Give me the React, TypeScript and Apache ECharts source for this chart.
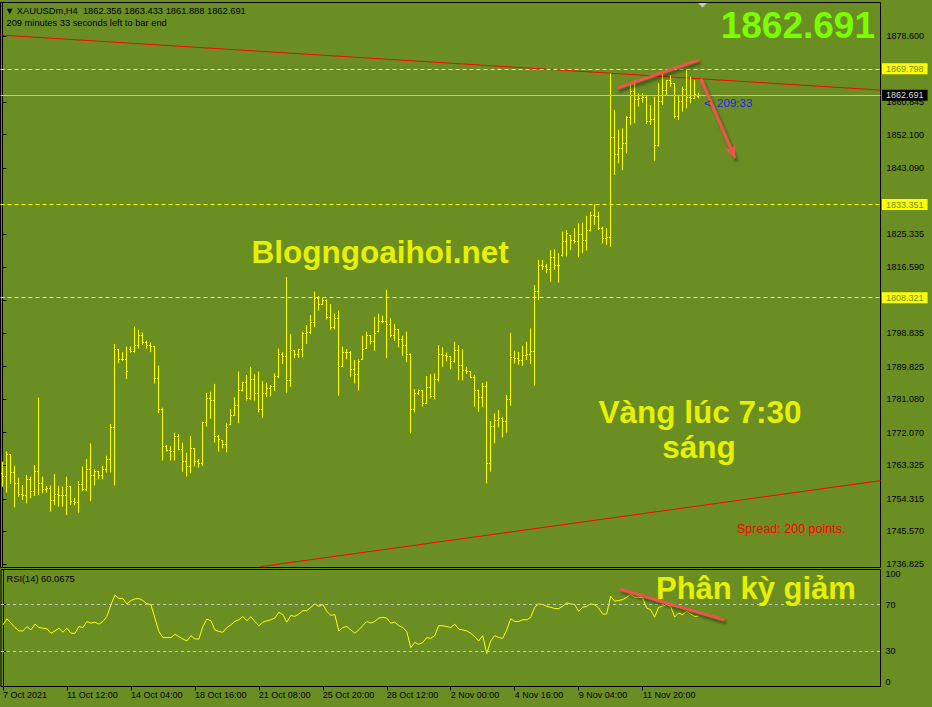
import React, { useEffect, useRef } from "react";
import * as echarts from "echarts";

// ---- time axis (one label every 16 H4 bars) ----
const timeLabels = [
  "7 Oct 2021", "11 Oct 12:00", "14 Oct 04:00", "18 Oct 16:00", "21 Oct 08:00",
  "25 Oct 20:00", "28 Oct 12:00", "2 Nov 00:00", "4 Nov 16:00", "9 Nov 04:00", "11 Nov 20:00",
];
const timeTickIdx = [0, 16, 32, 48, 64, 80, 96, 112, 128, 144, 160];

// ---- price axis tick labels ----
const priceTicks = [
  1878.6, 1860.845, 1852.1, 1843.09, 1825.335, 1816.59, 1807.58,
  1798.835, 1789.825, 1781.08, 1772.07, 1763.325, 1754.315, 1745.57, 1736.825,
];
const rsiTicks = [0, 30, 70, 100];

// ---- XAUUSDm H4 bars ----
const opens = [
  1761.0, 1760.3, 1766.1, 1761.4, 1758.5, 1755.6, 1755.1, 1759.4, 1756.3, 1761.6,
  1758.5, 1756.9, 1757.1, 1754.0, 1755.6, 1755.1, 1755.1, 1757.6, 1753.6, 1753.3,
  1758.3, 1756.7, 1762.1, 1760.7, 1761.6, 1760.7, 1762.1, 1765.0, 1773.5, 1794.5,
  1791.8, 1791.8, 1794.5, 1793.8, 1795.6, 1798.3, 1796.3, 1795.6, 1795.2, 1786.7,
  1778.4, 1768.3, 1767.4, 1767.0, 1771.0, 1767.6, 1764.3, 1763.1, 1767.9, 1764.3,
  1763.9, 1774.8, 1781.3, 1780.6, 1771.0, 1770.1, 1768.8, 1774.4, 1776.7, 1779.5,
  1783.4, 1785.5, 1781.3, 1786.4, 1782.7, 1778.4, 1782.5, 1784.0, 1784.6, 1787.1,
  1793.1, 1792.5, 1786.0, 1794.1, 1793.0, 1794.3, 1798.6, 1799.0, 1801.7, 1808.2,
  1806.6, 1807.7, 1803.1, 1800.4, 1802.8, 1789.8, 1793.6, 1793.6, 1789.1, 1787.6,
  1791.8, 1794.8, 1798.3, 1796.7, 1799.3, 1801.9, 1801.9, 1801.0, 1798.1, 1799.7,
  1797.0, 1795.6, 1793.2, 1778.2, 1782.7, 1783.4, 1780.0, 1784.3, 1781.8, 1786.4,
  1793.0, 1792.7, 1792.5, 1791.2, 1794.1, 1790.0, 1788.9, 1788.5, 1787.0, 1783.4,
  1781.6, 1784.4, 1763.7, 1773.7, 1775.3, 1775.9, 1775.0, 1780.9, 1792.3, 1792.1,
  1791.4, 1792.9, 1793.2, 1794.0, 1810.0, 1816.9, 1816.7, 1815.8, 1819.2, 1816.9,
  1819.6, 1823.4, 1825.0, 1823.8, 1823.4, 1825.2, 1823.8, 1826.3, 1830.3, 1830.1,
  1827.0, 1824.3, 1824.5, 1851.4, 1846.9, 1848.4, 1849.8, 1856.8, 1863.7, 1861.6,
  1861.9, 1862.1, 1855.6, 1856.2, 1849.1, 1861.0, 1863.9, 1866.6, 1865.9, 1856.9,
  1861.0, 1864.3, 1862.1, 1861.9, 1862.356,
];
const highs = [
  1764.3, 1767.0, 1766.1, 1763.2, 1760.0, 1758.0, 1760.7, 1760.3, 1763.4, 1781.5,
  1760.3, 1757.8, 1757.9, 1761.0, 1757.8, 1757.6, 1760.3, 1757.6, 1754.5, 1759.1,
  1763.0, 1765.0, 1769.2, 1762.2, 1761.6, 1763.2, 1765.9, 1774.4, 1795.9, 1794.5,
  1793.7, 1795.2, 1795.2, 1800.6, 1799.7, 1799.0, 1796.8, 1796.3, 1795.4, 1790.1,
  1778.8, 1768.8, 1768.5, 1772.1, 1771.7, 1769.4, 1766.7, 1771.2, 1767.9, 1765.0,
  1775.0, 1782.8, 1783.1, 1785.2, 1771.5, 1770.1, 1774.6, 1778.4, 1781.6, 1788.5,
  1785.8, 1787.6, 1789.8, 1787.8, 1788.5, 1786.0, 1785.5, 1784.9, 1788.0, 1794.7,
  1793.7, 1813.9, 1798.6, 1794.3, 1794.6, 1799.2, 1801.0, 1803.7, 1810.0, 1808.8,
  1808.2, 1807.9, 1806.6, 1804.1, 1804.9, 1795.2, 1794.5, 1794.0, 1791.6, 1791.8,
  1798.1, 1799.2, 1798.3, 1803.2, 1804.0, 1803.5, 1810.4, 1802.8, 1801.3, 1799.8,
  1798.1, 1799.2, 1793.4, 1783.8, 1783.7, 1783.4, 1787.3, 1787.8, 1788.0, 1795.6,
  1795.0, 1793.6, 1792.7, 1796.5, 1795.6, 1794.5, 1789.8, 1788.5, 1787.6, 1783.6,
  1785.5, 1785.8, 1775.2, 1777.3, 1778.2, 1776.2, 1782.2, 1798.9, 1794.1, 1793.8,
  1795.4, 1796.5, 1800.1, 1811.7, 1818.5, 1818.5, 1817.4, 1821.1, 1821.3, 1820.3,
  1826.1, 1826.5, 1825.2, 1827.0, 1828.3, 1828.5, 1830.3, 1831.4, 1833.4, 1831.4,
  1827.4, 1827.0, 1868.6, 1858.7, 1853.4, 1853.8, 1857.1, 1865.9, 1866.3, 1863.2,
  1863.2, 1862.8, 1860.1, 1862.3, 1865.9, 1868.6, 1866.8, 1868.1, 1865.9, 1862.8,
  1865.0, 1869.8, 1867.7, 1866.8, 1863.433,
];
const lows = [
  1757.6, 1756.0, 1758.3, 1752.0, 1754.9, 1754.0, 1753.1, 1754.5, 1755.1, 1755.4,
  1755.8, 1756.0, 1750.9, 1752.7, 1752.2, 1752.2, 1750.0, 1752.7, 1752.7, 1750.6,
  1756.4, 1756.4, 1753.7, 1757.9, 1759.6, 1759.6, 1761.4, 1761.4, 1757.9, 1790.7,
  1791.4, 1786.5, 1793.6, 1793.6, 1794.7, 1795.6, 1794.7, 1793.7, 1785.3, 1777.3,
  1764.6, 1767.0, 1764.6, 1764.6, 1767.4, 1761.6, 1760.3, 1761.2, 1763.0, 1762.7,
  1763.2, 1773.7, 1775.8, 1769.4, 1767.0, 1767.9, 1766.8, 1774.1, 1776.7, 1774.6,
  1783.1, 1780.7, 1780.9, 1780.7, 1777.5, 1776.1, 1781.6, 1781.8, 1783.3, 1786.7,
  1790.5, 1782.8, 1784.4, 1792.1, 1792.2, 1792.3, 1795.9, 1798.6, 1800.4, 1804.9,
  1806.4, 1802.5, 1799.7, 1799.8, 1782.0, 1789.8, 1791.8, 1787.1, 1785.3, 1783.4,
  1791.6, 1794.6, 1795.8, 1794.1, 1799.0, 1801.5, 1792.1, 1797.7, 1796.7, 1795.0,
  1792.7, 1791.0, 1771.9, 1777.5, 1782.2, 1779.1, 1779.8, 1781.3, 1781.0, 1785.8,
  1789.8, 1791.2, 1789.1, 1790.9, 1786.2, 1786.1, 1787.8, 1786.7, 1779.1, 1777.7,
  1778.9, 1758.5, 1761.6, 1769.2, 1773.5, 1770.8, 1772.1, 1779.3, 1790.7, 1790.3,
  1790.0, 1791.6, 1790.5, 1784.7, 1807.7, 1815.8, 1814.9, 1812.6, 1815.8, 1812.4,
  1819.4, 1819.4, 1821.1, 1822.9, 1819.2, 1820.3, 1821.0, 1826.1, 1827.9, 1826.5,
  1822.9, 1822.5, 1822.0, 1841.3, 1844.4, 1842.6, 1847.1, 1854.7, 1855.2, 1859.6,
  1860.7, 1855.0, 1854.7, 1845.1, 1848.9, 1860.1, 1862.8, 1865.0, 1856.5, 1856.1,
  1858.3, 1859.2, 1860.5, 1861.9, 1861.888,
];
const closes = [
  1760.3, 1766.1, 1761.4, 1758.5, 1755.6, 1755.1, 1759.4, 1756.3, 1761.6, 1758.5,
  1756.9, 1757.1, 1754.0, 1755.6, 1755.1, 1755.1, 1757.6, 1753.6, 1753.3, 1758.3,
  1756.7, 1762.1, 1760.7, 1761.6, 1760.7, 1762.1, 1765.0, 1773.5, 1794.5, 1791.8,
  1791.8, 1788.5, 1793.8, 1795.6, 1798.3, 1796.3, 1795.6, 1795.2, 1786.7, 1778.4,
  1768.3, 1767.4, 1767.0, 1771.0, 1767.6, 1764.3, 1763.1, 1767.9, 1764.3, 1763.9,
  1774.8, 1781.3, 1780.6, 1771.0, 1770.3, 1768.8, 1773.5, 1776.7, 1779.5, 1783.4,
  1785.5, 1781.3, 1786.4, 1782.7, 1778.4, 1782.5, 1784.0, 1784.6, 1787.1, 1793.1,
  1792.5, 1786.0, 1794.1, 1793.0, 1794.3, 1798.6, 1799.0, 1801.7, 1808.2, 1806.6,
  1807.7, 1803.1, 1800.4, 1802.8, 1789.8, 1793.6, 1793.6, 1789.1, 1787.6, 1791.2,
  1794.5, 1798.3, 1796.7, 1798.8, 1801.9, 1801.9, 1801.0, 1798.1, 1799.7, 1797.0,
  1795.6, 1793.2, 1778.2, 1782.7, 1783.4, 1780.0, 1784.3, 1781.8, 1786.4, 1793.0,
  1792.7, 1792.5, 1791.2, 1794.1, 1790.0, 1788.9, 1788.5, 1787.0, 1783.4, 1781.6,
  1784.4, 1763.7, 1773.7, 1775.3, 1775.9, 1775.0, 1780.9, 1792.3, 1792.1, 1791.4,
  1792.9, 1793.2, 1794.0, 1810.0, 1816.9, 1816.7, 1815.8, 1819.2, 1816.9, 1816.9,
  1823.4, 1825.6, 1823.8, 1823.4, 1825.2, 1823.8, 1826.3, 1830.3, 1830.1, 1827.0,
  1824.3, 1824.5, 1851.4, 1846.9, 1848.4, 1849.8, 1856.8, 1863.7, 1861.6, 1861.9,
  1862.1, 1855.6, 1856.2, 1849.1, 1861.0, 1863.9, 1866.6, 1865.9, 1856.9, 1861.0,
  1864.3, 1862.1, 1861.9, 1862.8, 1862.691,
];

// ---- RSI(14) ----
const rsiValues = [
  52.7, 57.9, 54.2, 50.4, 47.5, 47.5, 51.3, 48.4, 53.3, 50.4,
  49.8, 49.3, 45.5, 47.5, 49.8, 46.4, 49.8, 45.5, 45.5, 51.3,
  50.4, 55.6, 54.2, 55.0, 53.3, 55.6, 59.9, 70.0, 78.1, 75.2,
  75.2, 70.6, 73.5, 74.9, 75.2, 73.5, 70.6, 70.0, 58.5, 47.0,
  41.8, 41.8, 41.8, 44.7, 42.6, 40.6, 38.9, 43.5, 40.6, 40.6,
  51.3, 57.6, 56.2, 48.4, 47.0, 46.4, 50.4, 52.7, 55.6, 57.0,
  59.9, 56.2, 59.6, 55.6, 51.9, 55.0, 56.2, 57.0, 58.5, 63.4,
  61.4, 55.0, 60.8, 59.9, 61.9, 64.8, 64.8, 67.7, 70.6, 68.6,
  70.0, 64.2, 60.8, 61.4, 47.5, 50.4, 51.3, 48.4, 45.5, 48.4,
  52.1, 55.6, 54.2, 55.6, 58.5, 59.1, 58.5, 54.2, 55.0, 52.1,
  50.4, 47.0, 33.1, 37.7, 36.0, 37.7, 41.8, 41.2, 43.5, 52.1,
  51.9, 51.3, 50.4, 53.3, 49.0, 48.4, 47.5, 45.5, 42.6, 38.9,
  43.5, 28.2, 38.9, 43.5, 41.8, 41.2, 48.4, 57.9, 55.6, 55.6,
  57.0, 57.0, 59.1, 67.7, 70.6, 70.0, 68.6, 67.7, 66.6, 66.6,
  68.6, 71.4, 70.6, 70.0, 64.2, 67.7, 68.6, 70.6, 70.0, 67.1,
  61.9, 61.9, 77.2, 72.9, 73.5, 74.3, 76.3, 78.7, 76.3, 76.3,
  75.8, 67.1, 65.7, 59.3, 67.7, 68.6, 70.0, 68.6, 59.3, 62.8,
  61.4, 64.2, 61.9, 59.9, 60.0675,
];
const rsiLevels = [70, 30];

// ---- horizontal price levels and current bid ----
const levelLines = [1869.798, 1833.351, 1808.321];
const bidPrice = 1862.691;

// ---- drawn objects, as [bar index, price] (or [bar index, RSI]) ----
const trendUpper = [[-0.5, 1878.85], [219.5, 1864.08]];
const trendLower = [[64.5, 1736.1], [219.5, 1759.2]];
const annotTop = [[153.6, 1864.6], [174.1, 1872.2]];
const annotArrow = [[174.6, 1867.1], [183.1, 1845.8]];
const rsiDivergence = [[154.1, 83.4], [180.4, 56.9]];

const FONT = '"Liberation Sans", Arial, sans-serif';
const BG = "#6b8e23";
const CORAL = "#f0524c";

export default function App() {
  const ref = useRef<HTMLDivElement>(null);

  useEffect(() => {
    const chart = echarts.init(ref.current as HTMLDivElement, null, { renderer: "svg" });
    const ohlc = closes.map((c, i) => [i, opens[i], highs[i], lows[i], c]);
    const rsi = rsiValues.map((v, i) => [i, v]);

    const coralStyle = {
      color: CORAL,
      width: 3,
      type: "solid",
      shadowColor: "rgba(0,0,0,0.45)",
      shadowBlur: 3,
      shadowOffsetX: 2,
      shadowOffsetY: 3,
    };

    const tagLabel = (bg: string, fg: string, v: number) => ({
      show: true,
      position: "end",
      distance: 1.5,
      formatter: () => v.toFixed(3),
      backgroundColor: bg,
      color: fg,
      padding: [1, 4, 1, 4],
      fontSize: 9,
      fontFamily: FONT,
    });

    const option: any = {
      animation: false,
      backgroundColor: BG,
      textStyle: { fontFamily: FONT },
      grid: [
        { left: 0.5, top: 2.5, width: 880, height: 565, show: true, borderColor: "#000", borderWidth: 1 },
        { left: 0.5, top: 569.5, width: 880, height: 117, show: true, borderColor: "#000", borderWidth: 1 },
      ],
      xAxis: [
        { type: "value", gridIndex: 0, min: -0.5, max: 219.5, show: false },
        {
          type: "value",
          gridIndex: 1,
          min: -0.5,
          max: 219.5,
          position: "bottom",
          axisLine: { show: true, lineStyle: { color: "#000", width: 1 } },
          splitLine: { show: false },
          axisTick: { show: true, length: 4, customValues: timeTickIdx, lineStyle: { color: "#000" } },
          axisLabel: {
            customValues: timeTickIdx,
            formatter: (v: number) => timeLabels[Math.round(v / 16)] ?? "",
            align: "left",
            margin: 4,
            fontSize: 9,
            color: "#000",
            fontFamily: FONT,
          },
        },
      ],
      yAxis: [
        {
          type: "value",
          gridIndex: 0,
          position: "right",
          min: 1735.88,
          max: 1887.6,
          axisLine: { show: true, lineStyle: { color: "#000" } },
          splitLine: { show: false },
          axisTick: { show: true, length: 4, customValues: priceTicks, lineStyle: { color: "#000" } },
          axisLabel: {
            customValues: priceTicks,
            formatter: (v: number) => v.toFixed(3),
            margin: 6,
            fontSize: 9,
            color: "#000",
            fontFamily: FONT,
          },
        },
        {
          type: "value",
          gridIndex: 1,
          position: "right",
          min: 0,
          max: 100,
          axisLine: { show: true, lineStyle: { color: "#000" } },
          splitLine: { show: false },
          axisTick: { show: true, length: 3, customValues: rsiLevels, lineStyle: { color: "#000" } },
          axisLabel: {
            customValues: rsiTicks,
            formatter: (v: number) => String(v),
            margin: 5,
            fontSize: 9,
            color: "#000",
            fontFamily: FONT,
            verticalAlignMaxLabel: "top",
            verticalAlignMinLabel: "bottom",
          },
        },
      ],
      series: [
        {
          name: "trendUpper",
          type: "line",
          xAxisIndex: 0,
          yAxisIndex: 0,
          data: trendUpper,
          symbol: "none",
          silent: true,
          z: 1,
          lineStyle: { color: "#ff0000", width: 1 },
          markLine: {
            silent: true,
            symbol: ["none", "none"],
            data: [
              ...levelLines.map((v) => ({
                yAxis: v,
                lineStyle: { color: "#ffff00", type: [4, 3], width: 1 },
                label: tagLabel("#ffff00", BG, v),
              })),
              {
                yAxis: bidPrice,
                lineStyle: { color: "#c0c0c0", type: "solid", width: 1 },
                label: tagLabel("#000000", "#d8d8d8", bidPrice),
              },
            ],
          },
        },
        {
          name: "trendLower",
          type: "line",
          xAxisIndex: 0,
          yAxisIndex: 0,
          data: trendLower,
          symbol: "none",
          silent: true,
          z: 1,
          lineStyle: { color: "#ff0000", width: 1 },
        },
        {
          name: "XAUUSDm",
          type: "custom",
          xAxisIndex: 0,
          yAxisIndex: 0,
          data: ohlc,
          encode: { x: 0, y: [1, 2, 3, 4] },
          clip: true,
          silent: true,
          z: 2,
          renderItem: (params: any, api: any) => {
            const i = api.value(0);
            const o = api.coord([i, api.value(1)]);
            const h = api.coord([i, api.value(2)]);
            const l = api.coord([i, api.value(3)]);
            const c = api.coord([i, api.value(4)]);
            const cx = h[0];
            const snap = (y: number) => Math.floor(y) + 0.5;
            const st = { stroke: "#ffff00", lineWidth: 1 };
            const yTop = Math.min(h[1], l[1] - 1);
            return {
              type: "group",
              children: [
                { type: "line", shape: { x1: cx, y1: yTop, x2: cx, y2: l[1] }, style: st },
                { type: "line", shape: { x1: cx - 1.5, y1: snap(o[1]), x2: cx + 0.5, y2: snap(o[1]) }, style: st },
                { type: "line", shape: { x1: cx - 0.5, y1: snap(c[1]), x2: cx + 1.5, y2: snap(c[1]) }, style: st },
              ],
            };
          },
        },
        {
          name: "annotTop",
          type: "line",
          xAxisIndex: 0,
          yAxisIndex: 0,
          data: annotTop,
          symbol: "none",
          silent: true,
          z: 5,
          lineStyle: coralStyle,
          markLine: {
            silent: true,
            symbol: ["none", "none"],
            label: { show: false },
            data: [
              [
                { coord: annotArrow[0], symbol: "none" },
                { coord: annotArrow[1], symbol: "arrow", symbolSize: [9, 13] },
              ],
            ],
            lineStyle: coralStyle,
            itemStyle: { color: CORAL },
          },
        },
        {
          name: "RSI(14)",
          type: "line",
          xAxisIndex: 1,
          yAxisIndex: 1,
          data: rsi,
          symbol: "none",
          silent: true,
          z: 2,
          lineStyle: { color: "#ffff00", width: 1 },
          markLine: {
            silent: true,
            symbol: ["none", "none"],
            label: { show: false },
            data: rsiLevels.map((v) => ({ yAxis: v })),
            lineStyle: { color: "#c8c8c8", type: [3, 3], width: 1 },
          },
        },
        {
          name: "rsiDivergence",
          type: "line",
          xAxisIndex: 1,
          yAxisIndex: 1,
          data: rsiDivergence,
          symbol: "none",
          silent: true,
          z: 5,
          lineStyle: coralStyle,
        },
      ],
      graphic: [
        {
          type: "text",
          x: 5,
          y: 10.5,
          z: 100,
          style: {
            text: "▼ XAUUSDm,H4  1862.356 1863.433 1861.888 1862.691",
            fill: "#000",
            font: `9.3px ${FONT}`,
            textVerticalAlign: "middle",
            verticalAlign: "middle",
          },
        },
        {
          type: "text",
          x: 6.5,
          y: 23,
          z: 100,
          style: {
            text: "209 minutes 33 seconds left to bar end",
            fill: "#000",
            font: `9.3px ${FONT}`,
            textVerticalAlign: "middle",
            verticalAlign: "middle",
          },
        },
        {
          type: "text",
          x: 6.5,
          y: 579,
          z: 100,
          style: {
            text: "RSI(14) 60.0675",
            fill: "#000",
            font: `9.3px ${FONT}`,
            textVerticalAlign: "middle",
            verticalAlign: "middle",
          },
        },
        {
          type: "polygon",
          z: 100,
          shape: { points: [[698, 3], [707, 3], [702.5, 7.5]] },
          style: { fill: "#c8c8c8" },
        },
        {
          type: "text",
          x: 875,
          y: 25,
          z: 100,
          style: {
            text: "1862.691",
            fill: "#7cfc00",
            font: `bold 37px ${FONT}`,
            textAlign: "right",
            align: "right",
            textVerticalAlign: "middle",
            verticalAlign: "middle",
          },
        },
        {
          type: "text",
          x: 251.5,
          y: 252.3,
          z: 100,
          style: {
            text: "Blogngoaihoi.net",
            fill: "#e6f000",
            font: `bold 31.5px ${FONT}`,
            textVerticalAlign: "middle",
            verticalAlign: "middle",
          },
        },
        {
          type: "text",
          x: 700,
          y: 412.3,
          z: 100,
          style: {
            text: "Vàng lúc 7:30",
            fill: "#e6f000",
            font: `bold 31.5px ${FONT}`,
            textAlign: "center",
            align: "center",
            textVerticalAlign: "middle",
            verticalAlign: "middle",
          },
        },
        {
          type: "text",
          x: 699,
          y: 447.3,
          z: 100,
          style: {
            text: "sáng",
            fill: "#e6f000",
            font: `bold 31.5px ${FONT}`,
            textAlign: "center",
            align: "center",
            textVerticalAlign: "middle",
            verticalAlign: "middle",
          },
        },
        {
          type: "text",
          x: 656,
          y: 588,
          z: 100,
          style: {
            text: "Phân kỳ giảm",
            fill: "#e6f000",
            font: `bold 31px ${FONT}`,
            textVerticalAlign: "middle",
            verticalAlign: "middle",
          },
        },
        {
          type: "text",
          x: 737,
          y: 529,
          z: 100,
          style: {
            text: "Spread: 200 points.",
            fill: "#ff0000",
            font: `12.5px ${FONT}`,
            textVerticalAlign: "middle",
            verticalAlign: "middle",
          },
        },
        {
          type: "text",
          x: 704,
          y: 102.5,
          z: 100,
          style: {
            text: "<  209:33",
            fill: "#1e1ef0",
            font: `11.5px ${FONT}`,
            textVerticalAlign: "middle",
            verticalAlign: "middle",
          },
        },
      ],
    };

    chart.setOption(option);
    return () => chart.dispose();
  }, []);

  return (
    <div
      ref={ref}
      style={{ position: "fixed", left: 0, top: 0, width: 932, height: 707 }}
    />
  );
}
